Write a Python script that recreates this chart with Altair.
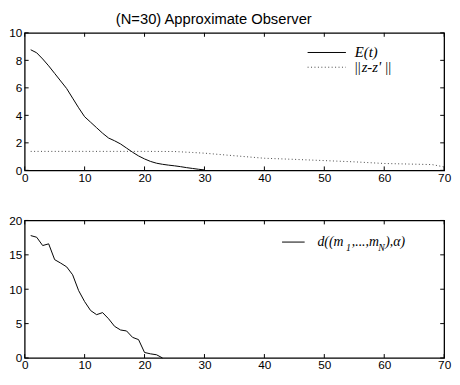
import altair as alt
import pandas as pd

# ---- data ----
t_E = list(range(1, 31))
E_vals = [8.77, 8.55, 8.1, 7.6, 7.05, 6.5, 5.95, 5.25, 4.55, 3.9,
          3.5, 3.1, 2.7, 2.35, 2.15, 1.92, 1.62, 1.32, 1.05, 0.83,
          0.65, 0.52, 0.44, 0.38, 0.33, 0.27, 0.2, 0.14, 0.08, 0.03]

t_z = [1, 5, 10, 15, 20, 25, 28, 30, 34, 40, 45, 50, 55, 60, 65, 68, 70]
z_vals = [1.38, 1.38, 1.38, 1.38, 1.38, 1.37, 1.3, 1.25, 1.1, 0.88,
          0.8, 0.71, 0.62, 0.5, 0.45, 0.42, 0.25]

t_d = list(range(1, 24))
d_vals = [17.8, 17.56, 16.35, 16.6, 14.3, 13.8, 13.25, 12.1, 9.8, 8.2,
          6.9, 6.3, 6.6, 5.7, 4.6, 4.07, 3.93, 3.0, 2.67, 0.8,
          0.6, 0.47, 0.0]

x_ticks = [0, 10, 20, 30, 40, 50, 60, 70]
y_ticks_top = [0, 2, 4, 6, 8, 10]
y_ticks_bot = [0, 5, 10, 15, 20]

title_text = "(N=30) Approximate Observer"
leg_E = "E(t)"
leg_z_parts = ["||", "z-z'", "||"]
leg_d_parts = ["d((m", "1", ",...,m", "N", "),\u03b1)"]

# ---- layout ----
W, H = 427, 140
TL = 4  # inner tick length
SANS = "Liberation Sans"
SERIF = "Liberation Serif"

xscale = alt.Scale(domain=[0, 70], nice=False, zero=False)


def xaxis(pad):
    return alt.Axis(values=x_ticks, ticks=False, domain=False, grid=False,
                    labelPadding=pad, labelFontSize=12, labelFont=SANS,
                    labelColor="black", title=None, labelOverlap=False,
                    labelFlush=False, labelBound=False)


def yaxis(vals):
    return alt.Axis(values=vals, ticks=False, domain=False, grid=False,
                    labelPadding=3, labelFontSize=12, labelFont=SANS,
                    labelColor="black", title=None, labelOverlap=False,
                    labelFlush=False, labelBound=False)


one = pd.DataFrame({"a": [0]})


def tick_layers(yscale, yvals, xa):
    xt = pd.DataFrame({"t": x_ticks})
    yt = pd.DataFrame({"v": yvals})
    ya = yaxis(yvals)
    xb = alt.Chart(xt).mark_rule(color="black", strokeWidth=1).encode(
        x=alt.X("t:Q", scale=xscale, axis=xa),
        y=alt.value(H), y2=alt.value(H - TL))
    xtop = alt.Chart(xt).mark_rule(color="black", strokeWidth=1).encode(
        x=alt.X("t:Q", scale=xscale, axis=xa),
        y=alt.value(0), y2=alt.value(TL))
    yl = alt.Chart(yt).mark_rule(color="black", strokeWidth=1).encode(
        y=alt.Y("v:Q", scale=yscale, axis=ya),
        x=alt.value(0), x2=alt.value(TL))
    yr = alt.Chart(yt).mark_rule(color="black", strokeWidth=1).encode(
        y=alt.Y("v:Q", scale=yscale, axis=ya),
        x=alt.value(W - TL), x2=alt.value(W))
    return [xb, xtop, yl, yr]


# ---- top panel ----
xa_top = xaxis(2)
yscale_top = alt.Scale(domain=[0, 10], nice=False, zero=False)
dfE = pd.DataFrame({"t": t_E, "v": E_vals})
dfz = pd.DataFrame({"t": t_z, "v": z_vals})

lineE = alt.Chart(dfE).mark_line(color="black", strokeWidth=1).encode(
    x=alt.X("t:Q", scale=xscale, axis=xa_top),
    y=alt.Y("v:Q", scale=yscale_top, axis=yaxis(y_ticks_top)))
linez = alt.Chart(dfz).mark_line(color="#444444", strokeWidth=1,
                                 strokeDash=[1, 2.5]).encode(
    x=alt.X("t:Q", scale=xscale, axis=xa_top),
    y=alt.Y("v:Q", scale=yscale_top, axis=yaxis(y_ticks_top)))

legE_line = alt.Chart(one).mark_rule(color="black", strokeWidth=1).encode(
    x=alt.value(288), x2=alt.value(327), y=alt.value(20))
legz_line = alt.Chart(one).mark_rule(color="#444444", strokeWidth=1,
                                     strokeDash=[1, 2.5]).encode(
    x=alt.value(288), x2=alt.value(327), y=alt.value(35))
legE_text = alt.Chart(one).mark_text(align="left", baseline="middle",
                                     font=SERIF, fontStyle="italic",
                                     fontSize=15, color="black").encode(
    x=alt.value(336), y=alt.value(20), text=alt.value(leg_E))

z_x = [336, 343, 367]
z_style = ["normal", "italic", "normal"]
legz_texts = []
for part, xx, st in zip(leg_z_parts, z_x, z_style):
    legz_texts.append(
        alt.Chart(one).mark_text(align="left", baseline="middle", font=SERIF,
                                 fontStyle=st, fontSize=15,
                                 color="black").encode(
            x=alt.value(xx), y=alt.value(35), text=alt.value(part)))

top = alt.layer(lineE, linez, *tick_layers(yscale_top, y_ticks_top, xa_top),
                legE_line, legz_line, legE_text, *legz_texts).properties(
    width=W, height=H,
    title=alt.TitleParams(title_text, font=SANS, fontSize=15,
                          fontWeight="normal", color="black",
                          dx=-21, offset=0))

# ---- bottom panel ----
xa_bot = xaxis(2)
yscale_bot = alt.Scale(domain=[0, 20], nice=False, zero=False)
dfd = pd.DataFrame({"t": t_d, "v": d_vals})
lined = alt.Chart(dfd).mark_line(color="black", strokeWidth=1).encode(
    x=alt.X("t:Q", scale=xscale, axis=xa_bot),
    y=alt.Y("v:Q", scale=yscale_bot, axis=yaxis(y_ticks_bot)))

legd_line = alt.Chart(one).mark_rule(color="black", strokeWidth=1).encode(
    x=alt.value(262), x2=alt.value(285), y=alt.value(22))

xs = [298, 327, 333, 360, 367]
ys = [22, 28, 22, 28, 22]
sizes = [14, 10, 14, 10, 14]
legd_texts = []
for part, xx, yy, fs in zip(leg_d_parts, xs, ys, sizes):
    legd_texts.append(
        alt.Chart(one).mark_text(align="left", baseline="middle", font=SERIF,
                                 fontStyle="italic", fontSize=fs,
                                 color="black").encode(
            x=alt.value(xx), y=alt.value(yy), text=alt.value(part)))

bottom = alt.layer(lined, *tick_layers(yscale_bot, y_ticks_bot, xa_bot),
                   legd_line, *legd_texts).properties(width=W, height=H)

chart = alt.vconcat(top, bottom, spacing=30).properties(
    padding={"left": 0, "top": 0, "right": 0, "bottom": -2},
    background="white"
).configure_view(stroke="black", strokeWidth=1.3)

chart.save("out.html", embed_options={"renderer": "svg", "actions": False})
